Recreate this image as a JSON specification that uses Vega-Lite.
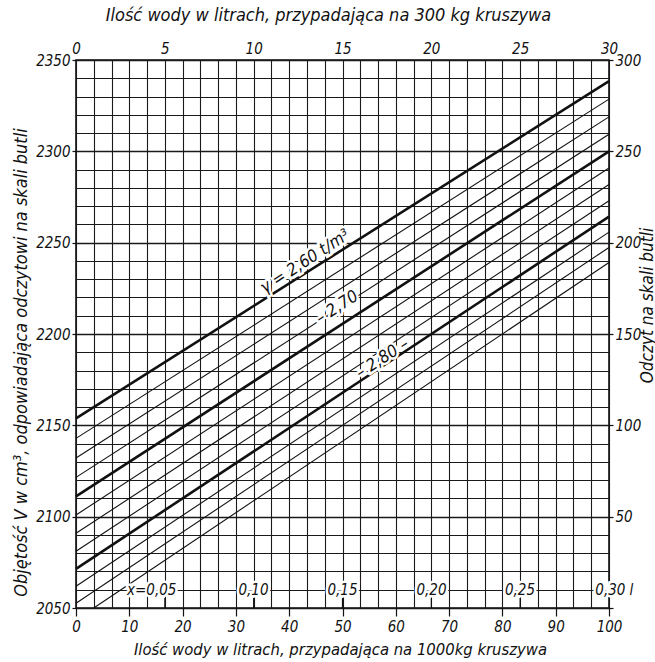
{
  "$schema": "https://vega.github.io/schema/vega-lite/v6.json",
  "width": 533,
  "height": 548,
  "autosize": {"type": "none"},
  "padding": {"left": 76, "top": 60, "right": 46, "bottom": 54},
  "background": "white",
  "config": {
    "font": "Liberation Sans Narrow, DejaVu Sans Condensed, sans-serif",
    "view": {"stroke": "#111", "strokeWidth": 1.6},
    "axis": {
      "labelFont": "Liberation Sans Narrow, DejaVu Sans Condensed, sans-serif",
      "labelFontStyle": "italic",
      "labelFontSize": 15,
      "labelColor": "#111",
      "labelFlush": false,
      "labelOverlap": false,
      "titleFont": "Liberation Sans Narrow, DejaVu Sans Condensed, sans-serif",
      "titleFontStyle": "italic",
      "titleFontWeight": "normal",
      "titleFontSize": 18,
      "titleColor": "#111",
      "tickColor": "#111",
      "tickWidth": 1.2,
      "domain": false,
      "gridColor": "#1a1a1a",
      "gridOpacity": 1
    }
  },
  "datasets": {
    "frame": [{"T": 0, "R": 0}, {"T": 30, "R": 300}],
    "lines": [
      {"gamma": "2.600", "kind": "main", "X": 0, "V": 2153.85},
      {"gamma": "2.600", "kind": "main", "X": 100, "V": 2338.46},
      {"gamma": "2.625", "kind": "minor", "X": 0, "V": 2142.86},
      {"gamma": "2.625", "kind": "minor", "X": 100, "V": 2328.57},
      {"gamma": "2.650", "kind": "minor", "X": 0, "V": 2132.08},
      {"gamma": "2.650", "kind": "minor", "X": 100, "V": 2318.87},
      {"gamma": "2.675", "kind": "minor", "X": 0, "V": 2121.5},
      {"gamma": "2.675", "kind": "minor", "X": 100, "V": 2309.35},
      {"gamma": "2.700", "kind": "main", "X": 0, "V": 2111.11},
      {"gamma": "2.700", "kind": "main", "X": 100, "V": 2300.0},
      {"gamma": "2.725", "kind": "minor", "X": 0, "V": 2100.92},
      {"gamma": "2.725", "kind": "minor", "X": 100, "V": 2290.83},
      {"gamma": "2.750", "kind": "minor", "X": 0, "V": 2090.91},
      {"gamma": "2.750", "kind": "minor", "X": 100, "V": 2281.82},
      {"gamma": "2.775", "kind": "minor", "X": 0, "V": 2081.08},
      {"gamma": "2.775", "kind": "minor", "X": 100, "V": 2272.97},
      {"gamma": "2.800", "kind": "main", "X": 0, "V": 2071.43},
      {"gamma": "2.800", "kind": "main", "X": 100, "V": 2264.29},
      {"gamma": "2.825", "kind": "minor", "X": 0, "V": 2061.95},
      {"gamma": "2.825", "kind": "minor", "X": 100, "V": 2255.75},
      {"gamma": "2.850", "kind": "minor", "X": 0, "V": 2052.63},
      {"gamma": "2.850", "kind": "minor", "X": 100, "V": 2247.37},
      {"gamma": "2.875", "kind": "minor", "X": 3.33, "V": 2050.0},
      {"gamma": "2.875", "kind": "minor", "X": 100, "V": 2239.13}
    ],
    "labels": [
      {"text": "γ = 2,60 t/m³", "X": 44, "V": 2235.0},
      {"text": "– 2,70", "X": 50, "V": 2210.0},
      {"text": "– 2,80 –", "X": 58.5, "V": 2182.0}
    ],
    "xlabels": [
      {"text": "x=0,05", "X": 14.2, "V": 2060},
      {"text": "0,10", "X": 33.3, "V": 2060},
      {"text": "0,15", "X": 50, "V": 2060},
      {"text": "0,20", "X": 66.7, "V": 2060},
      {"text": "0,25", "X": 83.3, "V": 2060},
      {"text": "0,30 l", "X": 101, "V": 2060}
    ],
    "xticks": [
      {"X": 16.67, "V1": 2050, "V2": 2055.5},
      {"X": 33.33, "V1": 2050, "V2": 2055.5},
      {"X": 50, "V1": 2050, "V2": 2055.5},
      {"X": 66.67, "V1": 2050, "V2": 2055.5},
      {"X": 83.33, "V1": 2050, "V2": 2055.5}
    ]
  },
  "layer": [
    {
      "data": {"name": "frame"},
      "mark": {"type": "point", "opacity": 0},
      "encoding": {
        "x": {
          "field": "T", "type": "quantitative",
          "scale": {"domain": [0, 30], "nice": false, "zero": false},
          "axis": {
            "orient": "top",
            "values": [0,1,2,3,4,5,6,7,8,9,10,11,12,13,14,15,16,17,18,19,20,21,22,23,24,25,26,27,28,29,30],
            "tickCount": 40,
            "format": "d",
            "grid": true,
            "gridWidth": 1.1,
            "ticks": false,
            "labelExpr": "datum.value % 5 === 0 ? datum.label : ''",
            "labelPadding": 4,
            "title": "Ilość wody w litrach, przypadająca na 300 kg kruszywa",
            "titleX": 252, "titleY": -45,
            "titleAlign": "center", "titleBaseline": "middle"
          }
        },
        "y": {
          "field": "R", "type": "quantitative",
          "scale": {"domain": [0, 300], "nice": false, "zero": false},
          "axis": {
            "orient": "right",
            "values": [0, 50, 100, 150, 200, 250, 300],
            "tickCount": 10,
            "format": "d",
            "grid": false,
            "tickSize": 4,
            "labelPadding": 2,
            "labelExpr": "datum.value > 0 ? datum.label : ''",
            "title": "Odczyt na skali butli",
            "titleFontSize": 17,
            "titleAngle": 270,
            "titleX": 38, "titleY": 245,
            "titleAlign": "center", "titleBaseline": "middle"
          }
        }
      }
    },
    {
      "layer": [
        {
          "data": {"name": "lines"},
          "mark": {"type": "line", "color": "#111", "strokeCap": "butt"},
          "encoding": {
            "x": {
              "field": "X", "type": "quantitative",
              "scale": {"domain": [0, 100], "nice": false, "zero": false},
              "axis": {
                "orient": "bottom",
                "values": [0, 10, 20, 30, 40, 50, 60, 70, 80, 90, 100],
                "tickCount": 20,
                "format": "d",
                "grid": false,
                "tickSize": 8,
                "labelPadding": 3,
                "title": "Ilość wody w litrach, przypadająca na 1000kg kruszywa",
                "titleFontSize": 16.5,
                "titleX": 264, "titleY": 41,
                "titleAlign": "center", "titleBaseline": "middle"
              }
            },
            "y": {
              "field": "V", "type": "quantitative",
              "scale": {"domain": [2050, 2350], "nice": false, "zero": false},
              "axis": {
                "orient": "left",
                "values": [2050,2060,2070,2080,2090,2100,2110,2120,2130,2140,2150,2160,2170,2180,2190,2200,2210,2220,2230,2240,2250,2260,2270,2280,2290,2300,2310,2320,2330,2340,2350],
                "tickCount": 40,
                "format": "d",
                "grid": true,
                "gridWidth": {"condition": {"test": "datum.value % 50 === 0", "value": 1.6}, "value": 1.1},
                "tickSize": 4,
                "tickOpacity": {"condition": {"test": "datum.value % 50 === 0", "value": 1}, "value": 0},
                "labelPadding": 2,
                "labelExpr": "datum.value % 50 === 0 ? datum.label : ''",
                "title": "Objętość V w cm³, odpowiadająca odczytowi na skali butli",
                "titleAngle": 270,
                "titleX": -55, "titleY": 302,
                "titleAlign": "center", "titleBaseline": "middle"
              }
            },
            "detail": {"field": "gamma", "type": "nominal"},
            "strokeWidth": {
              "field": "kind", "type": "nominal",
              "scale": {"domain": ["main", "minor"], "range": [2.6, 1.1]},
              "legend": null
            }
          }
        },
        {
          "data": {"name": "xticks"},
          "mark": {"type": "rule", "color": "#111", "strokeWidth": 1.2},
          "encoding": {
            "x": {"field": "X", "type": "quantitative"},
            "y": {"field": "V1", "type": "quantitative"},
            "y2": {"field": "V2"}
          }
        },
        {
          "data": {"name": "labels"},
          "mark": {"type": "text", "angle": -33, "align": "center", "baseline": "bottom", "dy": -1, "fontSize": 17, "fontStyle": "italic", "color": "white", "stroke": "white", "strokeWidth": 5},
          "encoding": {
            "x": {"field": "X", "type": "quantitative"},
            "y": {"field": "V", "type": "quantitative"},
            "text": {"field": "text"}
          }
        },
        {
          "data": {"name": "labels"},
          "mark": {"type": "text", "angle": -33, "align": "center", "baseline": "bottom", "dy": -1, "fontSize": 17, "fontStyle": "italic", "color": "#111"},
          "encoding": {
            "x": {"field": "X", "type": "quantitative"},
            "y": {"field": "V", "type": "quantitative"},
            "text": {"field": "text"}
          }
        },
        {
          "data": {"name": "xlabels"},
          "mark": {"type": "text", "align": "center", "baseline": "middle", "fontSize": 15, "fontStyle": "italic", "color": "white", "stroke": "white", "strokeWidth": 5},
          "encoding": {
            "x": {"field": "X", "type": "quantitative"},
            "y": {"field": "V", "type": "quantitative"},
            "text": {"field": "text"}
          }
        },
        {
          "data": {"name": "xlabels"},
          "mark": {"type": "text", "align": "center", "baseline": "middle", "fontSize": 15, "fontStyle": "italic", "color": "#111"},
          "encoding": {
            "x": {"field": "X", "type": "quantitative"},
            "y": {"field": "V", "type": "quantitative"},
            "text": {"field": "text"}
          }
        }
      ]
    }
  ],
  "resolve": {"scale": {"x": "independent", "y": "independent"}}
}
